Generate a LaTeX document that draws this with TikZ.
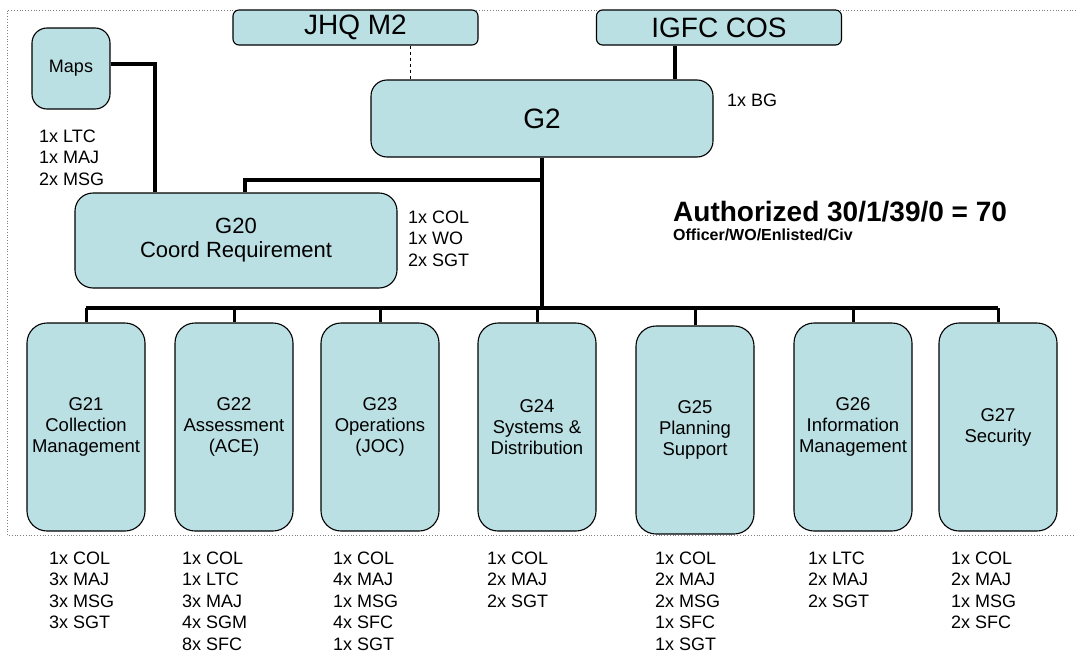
\documentclass[tikz,border=0pt]{standalone}
\usepackage{fontspec}
\setmainfont{Liberation Sans}
\usetikzlibrary{positioning}
\definecolor{unitfill}{RGB}{187,224,227}

\begin{document}
\begin{tikzpicture}[x=1pt, y=-1pt,
  unit/.style={rectangle, rounded corners=20pt, draw=black, fill=unitfill, line width=1.1pt,
               minimum width=118pt, minimum height=208pt, inner sep=1pt, align=center,
               font=\fontsize{18.5}{21}\selectfont},
  topbox/.style={rectangle, rounded corners=6pt, draw=black, fill=unitfill, line width=1.1pt,
                 minimum width=245pt, minimum height=35pt, inner sep=0pt,
                 font=\fontsize{28}{32}\selectfont},
  staff/.style={align=left, inner sep=0pt, font=\fontsize{18}{21.5}\selectfont},
  thickline/.style={line width=4.3pt},
  dropline/.style={line width=3pt},
  frameline/.style={dotted, gray, line width=0.8pt},
]
\useasboundingbox (0,0) rectangle (1076,653);

%% FRAME
\draw[frameline] (1076,10) -| (7,535) -- (1076,535);

%% HEADQUARTERS
\node[topbox] (jhq)  at (355.5,27.5) {JHQ M2};
\node[topbox] (igfc) at (719,27.5)   {IGFC COS};
\node[rectangle, rounded corners=16pt, draw=black, fill=unitfill, line width=1.1pt,
      minimum width=342pt, minimum height=77pt, font=\fontsize{28}{32}\selectfont]
      (g2) at (542,118.5) {G2};
\node[rectangle, rounded corners=15pt, draw=black, fill=unitfill, line width=1.1pt,
      minimum width=78pt, minimum height=81pt, font=\fontsize{18}{21}\selectfont]
      (maps) at (71,68.5) {Maps};
\node[rectangle, rounded corners=18pt, draw=black, fill=unitfill, line width=1.1pt,
      minimum width=322pt, minimum height=95pt, align=center,
      font=\fontsize{22}{24}\selectfont]
      (g20) at (236,240.5) {G20\\Coord Requirement};

%% STAFF SECTIONS
\node[unit] (g21) at (86,427)  {G21\\Collection\\Management};
\node[unit] (g22) at (234,427) {G22\\Assessment\\(ACE)};
\node[unit] (g23) at (380,427) {G23\\Operations\\(JOC)};
\node[unit] (g24) at (537,427) {G24\\Systems \&\\Distribution};
\node[unit] (g25) at (695,430) {G25\\Planning\\Support};
\node[unit] (g26) at (853,427) {G26\\Information\\Management};
\node[unit] (g27) at (998,427) {G27\\Security};

%% MANNING
\node[staff, anchor=west] (bgstaff)   at (727,100)   {1x BG};
\node[staff, anchor=west] (mapsstaff) at (39,157.5)  {1x LTC\\1x MAJ\\2x MSG};
\node[staff, anchor=west] (g20staff)  at (408,238.5) {1x COL\\1x WO\\2x SGT};

\node[staff, anchor=north west] (s21) at (49,551.5)  {1x COL\\3x MAJ\\3x MSG\\3x SGT};
\node[staff, anchor=north west] (s22) at (182,551.5) {1x COL\\1x LTC\\3x MAJ\\4x SGM\\8x SFC};
\node[staff, anchor=north west] (s23) at (333,551.5) {1x COL\\4x MAJ\\1x MSG\\4x SFC\\1x SGT};
\node[staff, anchor=north west] (s24) at (487,551.5) {1x COL\\2x MAJ\\2x SGT};
\node[staff, anchor=north west] (s25) at (655,551.5) {1x COL\\2x MAJ\\2x MSG\\1x SFC\\1x SGT};
\node[staff, anchor=north west] (s26) at (808,551.5) {1x LTC\\2x MAJ\\2x SGT};
\node[staff, anchor=north west] (s27) at (951,551.5) {1x COL\\2x MAJ\\1x MSG\\2x SFC};

%% TOTALS
\node[anchor=west, inner sep=0pt, font=\bfseries\fontsize{28}{32}\selectfont]
      (auth) at (673,212) {Authorized 30/1/39/0 = 70};
\node[anchor=west, inner sep=0pt, font=\bfseries\fontsize{16}{18}\selectfont]
      (authkey) at (673,235) {Officer/WO/Enlisted/Civ};

%% LINES
\coordinate (bus)     at (542,308);
\coordinate (g20join) at (542,180);

\draw[dashed, line width=0.8pt] ([xshift=54.5pt]jhq.south) -- ([xshift=54.5pt]jhq.south |- g2.north);
\draw[thickline] ([xshift=-44pt]igfc.south) -- ([xshift=-44pt]igfc.south |- g2.north);
\draw[thickline] ([yshift=4.5pt]maps.east) -| ([xshift=-81pt]g20.north);
\draw[thickline] (g2.south) -- (bus);
\draw[thickline] (g20join) -| ([xshift=9pt]g20.north);
\draw[thickline] (g21.north |- bus) -- (g27.north |- bus);

\draw[dropline] (g21.north |- bus) -- (g21.north);
\draw[dropline] (g22.north |- bus) -- (g22.north);
\draw[dropline] (g23.north |- bus) -- (g23.north);
\draw[dropline] (g24.north |- bus) -- (g24.north);
\draw[dropline] (g25.north |- bus) -- (g25.north);
\draw[dropline] (g26.north |- bus) -- (g26.north);
\draw[dropline] (g27.north |- bus) -- (g27.north);
\end{tikzpicture}
\end{document}
